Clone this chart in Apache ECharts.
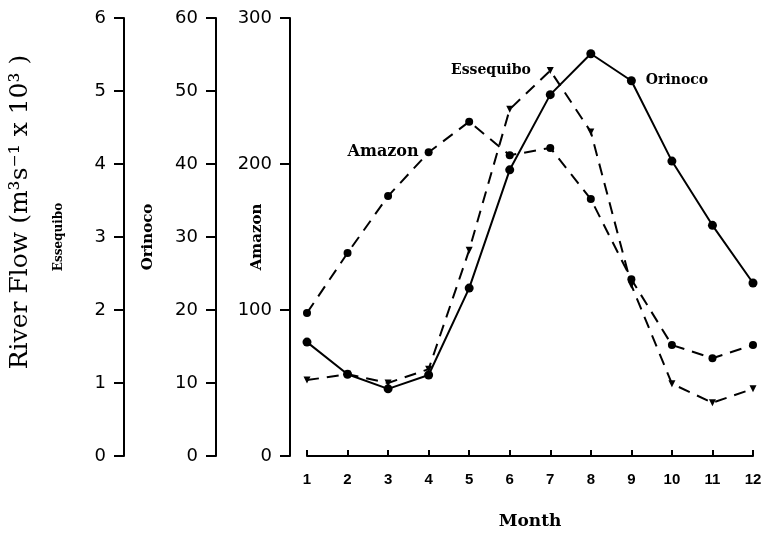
<!DOCTYPE html>
<html>
<head>
<meta charset="utf-8">
<script src="https://cdn.jsdelivr.net/npm/echarts@6/dist/echarts.min.js"></script>
<style>html,body{margin:0;padding:0;background:#fff;}#c{width:766px;height:535px;}</style>
</head>
<body>
<div id="c"></div>
<script>
var months = ['1','2','3','4','5','6','7','8','9','10','11','12'];
var essequibo = [1.04, 1.12, 1.0, 1.19, 2.82, 4.75, 5.28, 4.44, 2.34, 0.99, 0.73, 0.92];
var orinoco = [15.6, 11.2, 9.2, 11.1, 23.0, 39.2, 49.5, 55.1, 51.4, 40.4, 31.6, 23.7];
var amazon = [98, 139, 178, 208, 229, 206, 211, 176, 121, 76, 67, 76];
var essequiboTicks = [0, 6, 1];
var orinocoTicks = [0, 60, 10];
var amazonTicks = [0, 300, 100];

var serifBold = '"DejaVu Serif", serif';
function labelled(arr, idx, name, pos, dist, size) {
  return arr.map(function (v, i) {
    if (i !== idx) return v;
    return {value: v, label: {show: true, position: pos, distance: dist, formatter: name,
      color: '#000', fontFamily: serifBold, fontWeight: 'bold', fontSize: size}};
  });
}
function yAx(t, offset, name, nameGap, nameSize) {
  return {
    type: 'value', position: 'left', offset: offset, min: t[0], max: t[1], interval: t[2],
    splitLine: {show: false},
    axisLine: {show: true, lineStyle: {color: '#000', width: 2}},
    axisTick: {show: true, length: 10, lineStyle: {color: '#000', width: 2}},
    axisLabel: {color: '#000', fontFamily: '"DejaVu Sans", sans-serif', fontSize: 18, margin: 18},
    name: name, nameLocation: 'middle', nameGap: nameGap, nameRotate: 90, nameMoveOverlap: false,
    nameTextStyle: {color: '#000', fontFamily: serifBold, fontWeight: 'bold', fontSize: nameSize}
  };
}
var chart = echarts.init(document.getElementById('c'), null, {renderer: 'canvas'});
chart.setOption({
  backgroundColor: '#fff',
  animation: false,
  grid: {left: 307, right: 13, top: 18, bottom: 74},
  xAxis: {
    type: 'category', data: months, boundaryGap: false,
    axisLine: {lineStyle: {color: '#000', width: 2}},
    axisTick: {inside: true, length: 6, lineStyle: {color: '#000', width: 2}},
    axisLabel: {color: '#000', fontFamily: '"Liberation Sans", sans-serif', fontWeight: 'bold', fontSize: 15, margin: 16},
    name: 'Month', nameLocation: 'middle', nameGap: 57, nameMoveOverlap: false,
    nameTextStyle: {color: '#000', fontFamily: serifBold, fontWeight: 'bold', fontSize: 17}
  },
  yAxis: [
    yAx(essequiboTicks, 183, 'Essequibo', 59, 12),
    yAx(orinocoTicks, 91, 'Orinoco', 60, 15),
    yAx(amazonTicks, 17, 'Amazon', 25, 15)
  ],
  graphic: [{
    type: 'text', x: 20, y: 212, rotation: Math.PI / 2,
    style: {text: 'River Flow (m\u00b3s\u207b\u00b9 x 10\u00b3 )', fill: '#000',
      font: '25px "DejaVu Serif", serif', textAlign: 'center', textVerticalAlign: 'middle'}
  }],
  series: [
    {name: 'Essequibo', type: 'line', yAxisIndex: 0,
      data: labelled(essequibo, 6, 'Essequibo', 'left', 16, 14),
      symbol: 'triangle', symbolSize: 7, symbolRotate: 180,
      lineStyle: {color: '#000', width: 2, type: [12, 8]}, itemStyle: {color: '#000'}},
    {name: 'Orinoco', type: 'line', yAxisIndex: 1,
      data: labelled(orinoco, 8, 'Orinoco', 'right', 10, 14),
      symbol: 'circle', symbolSize: 9,
      lineStyle: {color: '#000', width: 2}, itemStyle: {color: '#000'}},
    {name: 'Amazon', type: 'line', yAxisIndex: 2,
      data: labelled(amazon, 3, 'Amazon', 'left', 6, 16),
      symbol: 'circle', symbolSize: 8,
      lineStyle: {color: '#000', width: 2, type: [12, 8]}, itemStyle: {color: '#000'}}
  ]
});
</script>
</body>
</html>
